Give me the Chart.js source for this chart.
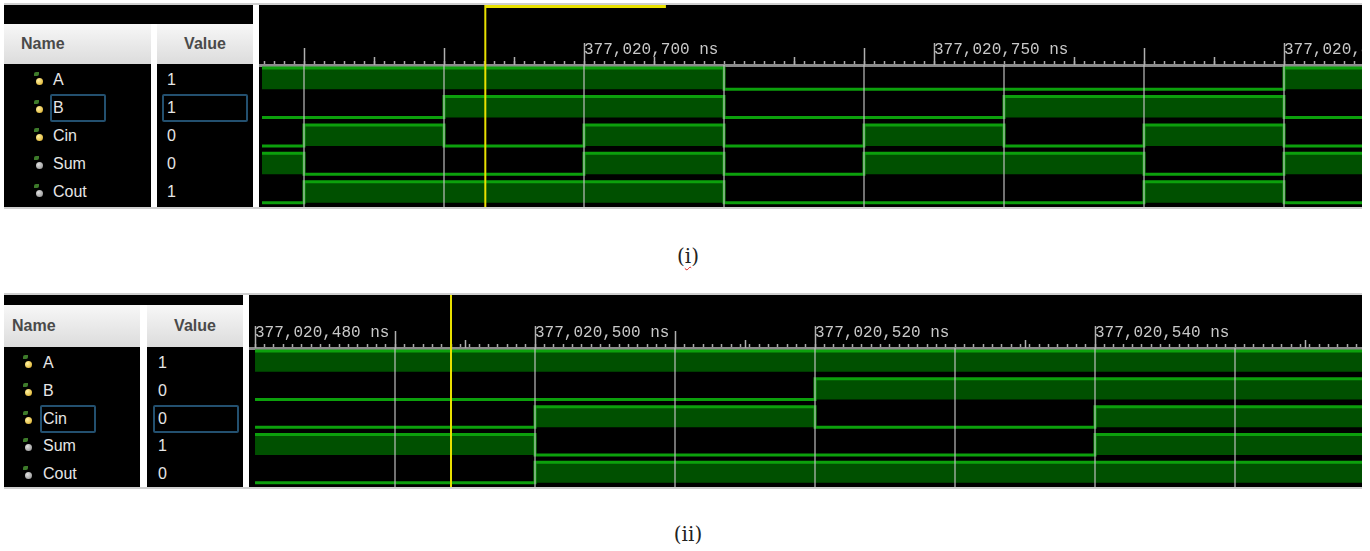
<!DOCTYPE html>
<html><head><meta charset="utf-8">
<script src="https://cdn.jsdelivr.net/npm/chart.js@4.4.1/dist/chart.umd.min.js"></script>
<style>
html,body{margin:0;padding:0;background:#fff;width:1370px;height:551px;overflow:hidden;font-family:"Liberation Sans",Arial,sans-serif;}
.abs{position:absolute;}
.blk{position:absolute;background:#000;}
.hdr{position:absolute;background:linear-gradient(#f7f7f7,#dcdcdc);color:#4a4a4a;font-weight:bold;font-size:16px;display:flex;align-items:center;box-sizing:border-box;}
.txt{position:absolute;color:#e6e6e6;font-size:16px;line-height:18px;height:18px;}
.dot{position:absolute;width:7px;height:7px;border-radius:50%;}
.leaf{position:absolute;width:5px;height:4px;background:#3d7a2a;border-radius:2px 0 2px 0;}
.sel{position:absolute;border:2px solid #23506f;box-sizing:border-box;border-radius:2px;}
.line{position:absolute;background:#cfcfcf;height:2px;}
.cap{position:absolute;font-family:"DejaVu Serif","Liberation Serif",serif;font-size:20px;color:#222;transform:translate(-50%,-50%);white-space:nowrap;}
.sq{text-decoration:underline wavy #e02020;text-decoration-thickness:1px;text-underline-offset:3px;}
</style></head>
<body>
<div id="root"></div>
<script>
// ---------- data ----------
const signalNames = ['A', 'B', 'Cin', 'Sum', 'Cout'];
const signalIsInput = [true, true, true, false, false];

// panel (i)
const times1 = [654, 660, 680, 700, 720, 740, 760, 780, 800, 812];
const A1    = [1, 1, 1, 1, 0, 0, 0, 0, 1, 1];
const B1    = [0, 0, 1, 1, 0, 0, 1, 1, 0, 0];
const Cin1  = [0, 1, 0, 1, 0, 1, 0, 1, 0, 0];
const Sum1  = [1, 0, 0, 1, 0, 1, 1, 0, 1, 1];
const Cout1 = [0, 1, 1, 1, 0, 0, 0, 1, 0, 0];
const values1 = ['1', '1', '0', '0', '1'];
const gridTimes1 = [660, 680, 700, 720, 740, 760, 780, 800];
const rulerLabelTimes1 = [700, 750, 800];
const rulerLabels1 = ['377,020,700 ns', '377,020,750 ns', '377,020,800 ns'];
const rulerMidTimes1 = [670, 690, 710, 730, 770, 790];
const rulerTallTimes1 = [660, 680, 740, 780];
const rulerMinorStep1 = 10 / 7;
const range1 = [653.57, 811.14];
const cursor1 = 685.9;
const cursorTag1 = [685.9, 711.7];

// panel (ii)
const times2 = [480, 500, 520, 540, 560];
const A2    = [1, 1, 1, 1, 1];
const B2    = [0, 0, 1, 1, 1];
const Cin2  = [0, 1, 0, 1, 1];
const Sum2  = [1, 0, 0, 1, 1];
const Cout2 = [0, 1, 1, 1, 1];
const values2 = ['1', '0', '0', '1', '0'];
const gridTimes2 = [490, 500, 510, 520, 530, 540, 550];
const rulerLabelTimes2 = [480, 500, 520, 540];
const rulerLabels2 = ['377,020,480 ns', '377,020,500 ns', '377,020,520 ns', '377,020,540 ns'];
const rulerMidTimes2 = [495, 515, 535, 555];
const rulerTallTimes2 = [490, 510];
const rulerMinorStep2 = 2 / 3;
const range2 = [479.57, 559.07];
const cursor2 = 494.0;
const cursorTag2 = null;

// ---------- layout (positions only) ----------
const HIGH = 0.11, LOW = 0.85;
const panels = [
  { series: [A1, B1, Cin1, Sum1, Cout1], times: times1, values: values1, grid: gridTimes1,
    labelTimes: rulerLabelTimes1, labels: rulerLabels1, mid: rulerMidTimes1, tall: rulerTallTimes1,
    step: rulerMinorStep1, range: range1, cursor: cursor1, tag: cursorTag1, sel: 1,
    top: 5, height: 202, rulerH: 60, waveLeft: 259, left: 4, nameW: 147, valLeft: 157, valW: 96,
    barH: 19, hdrH: 40, nameIndent: 17, rowTop: 80, pitch: 28, iconX: 38, nameX: 53, valX: 167,
    capY: 256, sq: true, capText: '(i)' },
  { series: [A2, B2, Cin2, Sum2, Cout2], times: times2, values: values2, grid: gridTimes2,
    labelTimes: rulerLabelTimes2, labels: rulerLabels2, mid: rulerMidTimes2, tall: rulerTallTimes2,
    step: rulerMinorStep2, range: range2, cursor: cursor2, tag: cursorTag2, sel: 2,
    top: 295, height: 192, rulerH: 53, waveLeft: 249, left: 4, nameW: 136, valLeft: 147, valW: 96,
    barH: 10, hdrH: 42, nameIndent: 8, rowTop: 363, pitch: 27.8, iconX: 27, nameX: 43, valX: 158,
    capY: 534, sq: false, capText: '(ii)' }
];

const root = document.getElementById('root');
function el(cls, css, html) {
  const d = document.createElement('div');
  d.className = cls;
  Object.assign(d.style, css);
  if (html !== undefined) d.innerHTML = html;
  root.appendChild(d);
  return d;
}
const px = v => v + 'px';

panels.forEach((p, pi) => {
  const right = 1362;
  el('line', { left: px(p.left), top: px(p.top - 2), width: px(right - p.left) });
  el('line', { left: px(p.left), top: px(p.top + p.height), width: px(right - p.left) });
  el('blk', { left: px(p.left), top: px(p.top), width: px(p.valLeft + p.valW - p.left), height: px(p.barH) });
  const hTop = p.top + p.barH;
  el('hdr', { left: px(p.left), top: px(hTop), width: px(p.nameW), height: px(p.hdrH), paddingLeft: px(p.nameIndent) }, 'Name');
  el('hdr', { left: px(p.valLeft), top: px(hTop), width: px(p.valW), height: px(p.hdrH), justifyContent: 'center' }, 'Value');
  const bTop = hTop + p.hdrH;
  const bH = p.top + p.height - bTop;
  el('blk', { left: px(p.left), top: px(bTop), width: px(p.nameW), height: px(bH) });
  el('blk', { left: px(p.valLeft), top: px(bTop), width: px(p.valW), height: px(bH) });
  signalNames.forEach((n, i) => {
    const cy = p.rowTop + i * p.pitch;
    el('leaf', { left: px(p.iconX - 4), top: px(cy - 8) });
    el('dot', { left: px(p.iconX - 2), top: px(cy - 2),
      background: signalIsInput[i] ? 'radial-gradient(circle at 35% 35%,#fff2a0,#d8a820)' : 'radial-gradient(circle at 35% 35%,#e0e0e0,#8a8a8a)' });
    el('txt', { left: px(p.nameX), top: px(cy - 9) }, n);
    el('txt', { left: px(p.valX), top: px(cy - 9) }, p.values[i]);
    if (i === p.sel) {
      el('sel', { left: px(p.nameX - 3), top: px(cy - 14), width: px(56), height: px(28) });
      el('sel', { left: px(p.valX - 5), top: px(cy - 14), width: px(86), height: px(28) });
    }
  });
  el('cap', { left: px(688), top: px(p.capY) }, p.sq ? '(<span class="sq">i</span>)' : p.capText);

  const wrap = el('abs', { left: px(p.waveLeft), top: px(p.top), width: px(right - p.waveLeft), height: px(p.height), background: '#000' });
  const cv = document.createElement('canvas');
  cv.width = right - p.waveLeft; cv.height = p.height;
  wrap.appendChild(cv);

  const datasets = p.series.map((vals, row) => ({
    data: p.times.map((t, k) => ({ x: t, y: row + (vals[k] ? HIGH : LOW) })),
    stepped: 'before',
    borderColor: '#0ca00c',
    borderWidth: 3,
    backgroundColor: '#005000',
    fill: { value: row + LOW },
    pointRadius: 0,
    tension: 0,
    xAxisID: 'x',
    yAxisID: 'y'
  }));

  const rulerTicks = [];
  const anchor = p.labelTimes[0];
  const kMin = Math.ceil((p.range[0] - anchor) / p.step);
  const kMax = Math.floor((p.range[1] - anchor) / p.step);
  for (let k = kMin; k <= kMax; k++) {
    let v = anchor + k * p.step;
    const li = p.labelTimes.findIndex(t => Math.abs(t - v) < 1e-3);
    if (li >= 0) v = p.labelTimes[li];
    rulerTicks.push(v);
  }

  const rulerPlugin = {
    id: 'ruler' + pi,
    afterDraw(chart) {
      const s = chart.scales.x;
      const ctx = chart.ctx;
      const base = s.bottom;
      ctx.save();
      ctx.strokeStyle = '#b0b0b0';
      ctx.lineWidth = 1.5;
      const mark = (v, h) => {
        const x = Math.round(s.getPixelForValue(v)) + 0.5;
        ctx.beginPath(); ctx.moveTo(x, base); ctx.lineTo(x, base - h); ctx.stroke();
      };
      p.mid.forEach(v => mark(v, 8));
      p.tall.forEach(v => mark(v, 17));
      p.labelTimes.forEach(v => mark(v, 22));
      ctx.strokeStyle = '#e8e000';
      ctx.lineWidth = 2;
      const cx = s.getPixelForValue(p.cursor);
      ctx.beginPath(); ctx.moveTo(cx, 0); ctx.lineTo(cx, chart.height); ctx.stroke();
      if (p.tag) {
        ctx.fillStyle = '#e8e000';
        const x0 = s.getPixelForValue(p.tag[0]);
        const x1 = s.getPixelForValue(p.tag[1]);
        ctx.fillRect(x0, 0, x1 - x0, 3);
      }
      ctx.restore();
    }
  };

  new Chart(cv, {
    type: 'line',
    data: { datasets },
    options: {
      responsive: false,
      animation: false,
      devicePixelRatio: 1,
      layout: { padding: 0, autoPadding: false },
      plugins: { legend: { display: false }, tooltip: { enabled: false } },
      events: [],
      scales: {
        x: {
          type: 'linear', position: 'top', min: p.range[0], max: p.range[1],
          afterBuildTicks: s => { s.ticks = rulerTicks.map(v => ({ value: v })); },
          afterFit: s => { s.height = p.rulerH; },
          ticks: {
            autoSkip: false, maxRotation: 0, minRotation: 0, align: 'start', padding: 2,
            color: '#c8c8c8', font: { family: 'Liberation Mono', size: 16 },
            callback: v => {
              const li = p.labelTimes.findIndex(t => Math.abs(t - v) < 1e-3);
              return li >= 0 ? p.labels[li] : '';
            }
          },
          grid: { drawOnChartArea: false, drawTicks: true, tickLength: 4, tickColor: '#a8a8a8', tickWidth: 1.5 },
          border: { display: true, color: '#8c8c8c', width: 3 }
        },
        xg: {
          type: 'linear', position: 'bottom', min: p.range[0], max: p.range[1],
          afterBuildTicks: s => { s.ticks = p.grid.map(v => ({ value: v })); },
          afterFit: s => { s.height = 0; },
          ticks: { display: false },
          grid: { drawTicks: false, color: 'rgba(190,190,190,0.6)', lineWidth: 2, z: 1 },
          border: { display: false }
        },
        y: { type: 'linear', display: false, min: 0, max: 5, reverse: true }
      }
    },
    plugins: [rulerPlugin]
  });
});
</script>
</body></html>
